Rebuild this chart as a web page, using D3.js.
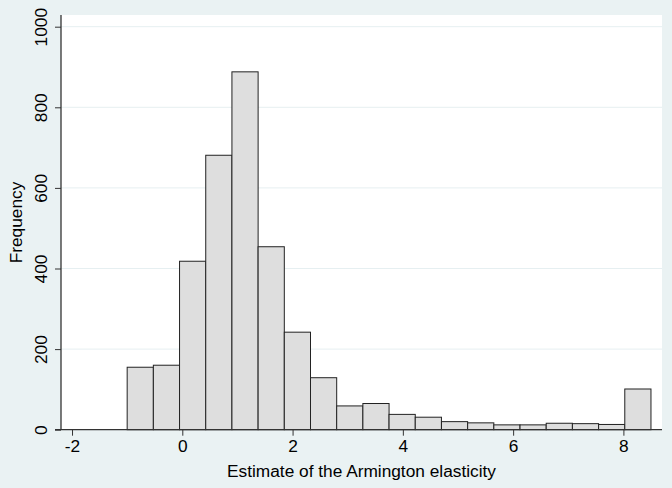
<!DOCTYPE html>
<html>
<head>
<meta charset="utf-8">
<script src="https://cdn.jsdelivr.net/npm/d3@7"></script>
<style>
  body { margin: 0; background: #eaf2f3; }
  text { font-family: "Liberation Sans", Arial, sans-serif; fill: #000; }
</style>
</head>
<body>
<div id="chart"></div>
<script>
// histogram data (bins of width 0.475 starting at -1)
const binEdges = [-1.0, -0.525, -0.05, 0.425, 0.9, 1.375, 1.85, 2.325, 2.8, 3.275, 3.75,
                  4.225, 4.7, 5.175, 5.65, 6.125, 6.6, 7.075, 7.55, 8.025, 8.5];
const counts = [155, 160, 418, 681, 888, 454, 242, 129, 59, 65, 38,
                31, 20, 17, 12, 12, 16, 15, 13, 101];
const xTicks = [-2, 0, 2, 4, 6, 8];
const yTicks = [0, 200, 400, 600, 800, 1000];

const width = 672, height = 488;
const plot = {left: 61, right: 662, top: 15, bottom: 430};
const fontSize = "17.3px";

const svg = d3.select("#chart").append("svg")
    .attr("width", width)
    .attr("height", height);

svg.append("rect")
    .attr("width", width).attr("height", height)
    .attr("fill", "#eaf2f3");

svg.append("rect")
    .attr("x", plot.left).attr("y", plot.top)
    .attr("width", plot.right - plot.left)
    .attr("height", plot.bottom - plot.top)
    .attr("fill", "#fff");

const x = d3.scaleLinear().domain([-2.2, 8.7]).range([plot.left, plot.right]);
const y = d3.scaleLinear().domain([0, 1000]).range([429.7, 26.7]);

//Gridlines
svg.append("g")
    .selectAll("line")
    .data(yTicks.filter(d => d > 0))
    .enter().append("line")
    .attr("x1", plot.left).attr("x2", plot.right)
    .attr("y1", d => y(d)).attr("y2", d => y(d))
    .attr("stroke", "#e6eff1")
    .attr("stroke-width", 1);

//Bars
const bins = counts.map((c, i) => ({x0: binEdges[i], x1: binEdges[i + 1], n: c}));
svg.append("g")
    .selectAll("rect")
    .data(bins)
    .enter().append("rect")
    .attr("x", d => x(d.x0))
    .attr("y", d => y(d.n))
    .attr("width", d => x(d.x1) - x(d.x0))
    .attr("height", d => y(0) - y(d.n))
    .attr("fill", "#dedede")
    .attr("stroke", "#222")
    .attr("stroke-width", 1);

//Axes
const xAxis = svg.append("g")
    .attr("transform", `translate(0, ${y(0)})`)
    .call(d3.axisBottom(x).tickValues(xTicks).tickSize(6).tickPadding(4).tickFormat(d3.format("d")));
xAxis.select(".domain").remove();
xAxis.append("line")
    .attr("x1", plot.left - 6).attr("x2", plot.right)
    .attr("stroke", "#333").attr("stroke-width", 1.3);
xAxis.selectAll(".tick line").attr("stroke", "#333");
xAxis.selectAll(".tick text")
    .style("font-size", fontSize)
    .style("font-family", "Liberation Sans, Arial, sans-serif")
    .attr("fill", "#000")
    .text(d => d < 0 ? "-" + Math.abs(d) : d);

const yAxis = svg.append("g")
    .attr("transform", `translate(${plot.left},0)`)
    .call(d3.axisLeft(y).tickValues(yTicks).tickSize(6).tickFormat(d3.format("d")));
yAxis.select(".domain").remove();
yAxis.append("line")
    .attr("y1", plot.top).attr("y2", y(0))
    .attr("stroke", "#333").attr("stroke-width", 1.3);
yAxis.selectAll(".tick line").attr("stroke", "#333");
yAxis.selectAll(".tick text")
    .style("font-size", fontSize)
    .style("font-family", "Liberation Sans, Arial, sans-serif")
    .attr("fill", "#000")
    .attr("x", null).attr("dy", null)
    .attr("text-anchor", "middle")
    .attr("transform", "translate(-14.5,0) rotate(-90)");

//Labels
svg.append("text")
    .attr("x", (plot.left + plot.right) / 2)
    .attr("y", 476.5)
    .attr("text-anchor", "middle")
    .style("font-size", fontSize)
    .text("Estimate of the Armington elasticity");

svg.append("text")
    .attr("transform", `translate(21.5, ${(plot.top + plot.bottom) / 2}) rotate(-90)`)
    .attr("text-anchor", "middle")
    .style("font-size", fontSize)
    .text("Frequency");
</script>
</body>
</html>
